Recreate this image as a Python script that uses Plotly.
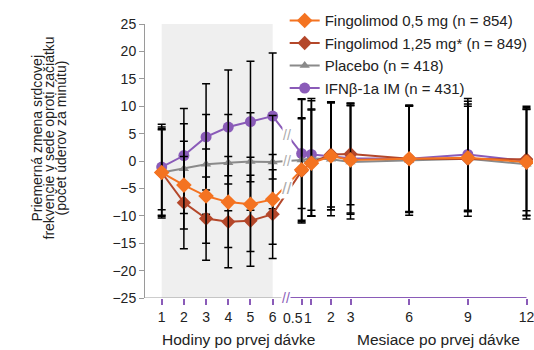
import plotly.graph_objects as go

# ---- data ----
hours = [1, 2, 3, 4, 5, 6]
months = [0.5, 1, 2, 3, 6, 9, 12]
hour_ticks = ["1", "2", "3", "4", "5", "6"]
month_ticks = ["0.5", "1", "2", "3", "6", "9", "12"]

names = ["Fingolimod 0,5 mg (n = 854)", "Fingolimod 1,25 mg* (n = 849)",
         "Placebo (n = 418)", "IFNβ-1a IM (n = 431)"]

fin05_h = [-2.1, -4.4, -6.4, -7.5, -7.9, -7.0]
fin05_m = [-1.6, -0.4, 0.9, 0.2, 0.4, 0.6, -0.2]
fin05_eh = [8.0, 8.0, 8.6, 8.3, 8.6, 8.2]
fin05_em = [9.5, 9.7, 9.8, 9.9, 9.6, 9.8, 9.7]

fin125_h = [-2.1, -7.6, -10.5, -11.1, -10.9, -9.7]
fin125_m = [-1.8, -0.3, 1.2, 1.3, 0.4, 0.4, 0.3]
fin125_eh = [7.8, 8.4, 7.6, 8.4, 8.3, 8.1]
fin125_em = [9.5, 9.8, 9.6, 9.3, 9.7, 9.6, 9.4]

plac_h = [-2.1, -1.4, -0.6, -0.3, -0.1, -0.2]
plac_m = [0.2, 0.5, 0.3, -0.2, 0.1, 0.4, -0.6]
plac_eh = [8.3, 8.2, 9.1, 8.8, 8.9, 8.5]
plac_em = [11.0, 10.5, 10.3, 10.4, 10.0, 10.5, 10.0]

ifn_h = [-1.1, 1.0, 4.4, 6.2, 7.2, 8.2]
ifn_m = [1.35, 1.2, 0.9, 0.5, 0.4, 1.2, 0.0]
ifn_eh = [7.8, 8.6, 9.7, 10.4, 11.0, 11.5]
ifn_em = [10.0, 10.2, 9.8, 10.0, 9.8, 10.2, 10.0]

# ---- scale: hours and months share one axis with a break ----
MONTH0 = 6.865
MONTH_SCALE = 0.881
def mpos(m):
    return MONTH0 + MONTH_SCALE * m

xs = list(hours) + [mpos(m) for m in months]
BREAK_X = (hours[-1] + mpos(months[0])) / 2

ORANGE = "#f47321"
BROWN = "#b4472a"
GRAY = "#8a8a8a"
PURPLE = "#8a5bb8"
FONT = "Liberation Sans"

series = [
    (names[3], ifn_h + ifn_m, ifn_eh + ifn_em, PURPLE, "circle", 11),
    (names[2], plac_h + plac_m, plac_eh + plac_em, GRAY, "triangle-up", 9),
    (names[1], fin125_h + fin125_m, fin125_eh + fin125_em, BROWN, "diamond", 11),
    (names[0], fin05_h + fin05_m, fin05_eh + fin05_em, ORANGE, "diamond", 12),
]

fig = go.Figure()
for name, ys, es, col, sym, size in series:
    fig.add_trace(go.Scatter(
        x=xs, y=ys, name=name, mode="lines+markers",
        line=dict(color=col, width=2),
        marker=dict(symbol=sym, size=size, color=col),
        error_y=dict(type="data", array=es, visible=True, color="black",
                     thickness=1.5, width=4),
    ))

shapes = [
    dict(type="rect", xref="x", yref="y", x0=hours[0], x1=hours[-1], y0=-25, y1=25,
         fillcolor="#efefef", line=dict(width=0), layer="below"),
    dict(type="line", xref="paper", yref="y", x0=0, x1=0.355, y0=-25, y1=-25,
         line=dict(color="#9a9a9a", width=1)),
    dict(type="line", xref="x", yref="y", x0=BREAK_X + 0.12, x1=mpos(months[-1]), y0=-25, y1=-25,
         line=dict(color=PURPLE, width=2)),
]

annotations = []
# break marks on the lines (orange and brown share one)
mids = [
    ((ifn_h[-1] + ifn_m[0]) / 2, 14),
    ((plac_h[-1] + plac_m[0]) / 2, 14),
    ((fin05_h[-1] + fin05_m[0] + fin125_h[-1] + fin125_m[0]) / 4, 17),
]
for ym, fs in mids:
    annotations.append(dict(x=BREAK_X, y=ym, xref="x", yref="y", text="//",
                            showarrow=False, font=dict(family=FONT, size=fs, color="#aaaaaa"),
                            bgcolor="white", borderpad=0))
annotations.append(dict(x=BREAK_X - 0.05, y=-25, xref="x", yref="y", text="//",
                        showarrow=False, font=dict(family=FONT, size=14, color=PURPLE),
                        bgcolor="white", borderpad=0))

# crowded labels "0.5" and "1" sit just left of their ticks (as in the reference)
tick_text = hour_ticks + ["", ""] + month_ticks[2:]
for lbl, m, dx in [(month_ticks[0], months[0], -9), (month_ticks[1], months[1], -3)]:
    annotations.append(dict(x=mpos(m), y=0, xref="x", yref="paper", text=lbl,
                            showarrow=False, xshift=dx, yshift=-20, yanchor="middle",
                            font=dict(family=FONT, size=14, color="#222")))

# axis titles (x positions given in pixels of the plot area, converted)
PX_PER_UNIT = 22.2
def px_to_x(px):
    return 1 + (px - 161.7) / PX_PER_UNIT

annotations.append(dict(x=px_to_x(239), y=-0.153, xref="x", yref="paper",
                        text="Hodiny po prvej dávke", showarrow=False, yanchor="middle",
                        font=dict(family=FONT, size=15.5, color="#222")))
annotations.append(dict(x=px_to_x(439), y=-0.153, xref="x", yref="paper",
                        text="Mesiace po prvej dávke", showarrow=False, yanchor="middle",
                        font=dict(family=FONT, size=15.5, color="#222")))
ytitle = ["Priemerná zmena srdcovej", "frekvencie v sede oproti začiatku",
          "(počet úderov za minútu)"]
for i, t in enumerate(ytitle):
    annotations.append(dict(x=(36.5 + 12.0 * i - 145) / 388, y=(298 - 138) / 274,
                            xref="paper", yref="paper", text=t, textangle=-90,
                            showarrow=False, xanchor="center", yanchor="middle",
                            font=dict(family=FONT, size=14, color="#222")))

fig.update_layout(
    width=534, height=350,
    margin=dict(l=145, r=1, t=24, b=52),
    plot_bgcolor="white", paper_bgcolor="white",
    font=dict(family=FONT, size=14, color="#222"),
    shapes=shapes, annotations=annotations,
    legend=dict(x=0.36, y=1.072, xanchor="left", yanchor="top",
                traceorder="reversed", bgcolor="rgba(255,255,255,0)",
                font=dict(family=FONT, size=15, color="#222"),
                itemwidth=30, tracegroupgap=0),
    xaxis=dict(range=[0.248, 17.73], showgrid=False, zeroline=False, showline=False,
               tickvals=xs, ticktext=tick_text, tickangle=0, ticklabeloverflow="allow",
               ticks="outside", ticklen=6, tickwidth=1.5, tickcolor=PURPLE,
               tickfont=dict(family=FONT, size=14, color="#222")),
    yaxis=dict(range=[-25, 25], dtick=5, showgrid=False, zeroline=False,
               showline=True, linecolor="#9a9a9a", linewidth=1,
               ticks="outside", ticklen=5, tickcolor="#9a9a9a",
               tickfont=dict(family=FONT, size=14, color="#222")),
    showlegend=True,
)

fig.write_html("out.html", config={"displayModeBar": False},
               post_script="document.body.style.margin='0';")
